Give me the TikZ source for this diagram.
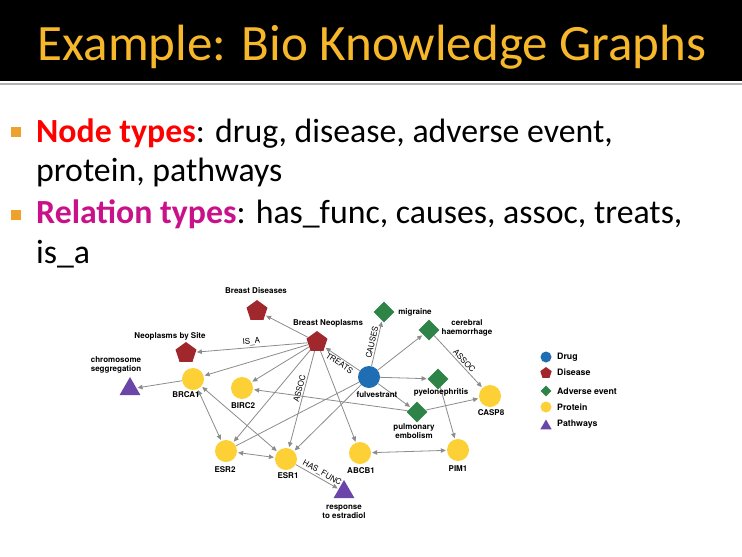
\documentclass[tikz,border=0pt]{standalone}
\usepackage{fontspec}
\setmainfont{Carlito}
\newfontfamily\kgfont{TeX Gyre Heros}
\usetikzlibrary{shapes.geometric,arrows.meta}

\definecolor{titlegold}{HTML}{F7B72B}
\definecolor{bulletorange}{HTML}{EFA22B}
\definecolor{typered}{HTML}{FF0000}
\definecolor{relmagenta}{HTML}{C9118A}
\definecolor{drugblue}{HTML}{1F6DB3}
\definecolor{diseasered}{HTML}{A0282C}
\definecolor{eventgreen}{HTML}{2E8347}
\definecolor{proteinyellow}{HTML}{FDD135}
\definecolor{pathpurple}{HTML}{6B46A8}
\definecolor{edgegray}{HTML}{8C8C8C}

\tikzset{
  drug/.style={circle, fill=drugblue, minimum size=22pt, inner sep=0pt},
  protein/.style={circle, fill=proteinyellow, minimum size=22pt, inner sep=0pt},
  disease/.style={regular polygon, regular polygon sides=5, fill=diseasered, minimum size=22pt, inner sep=0pt},
  event/.style={diamond, fill=eventgreen, minimum size=21pt, inner sep=0pt},
  pathway/.style={regular polygon, regular polygon sides=3, fill=pathpurple, minimum size=24pt, inner sep=0pt},
  lbl/.style={font=\kgfont\bfseries\fontsize{8}{9.5}\selectfont, align=center, inner sep=0pt},
  lgtxt/.style={font=\kgfont\bfseries\fontsize{8.8}{10}\selectfont, anchor=west, inner sep=0pt},
  link/.style={draw=edgegray, line width=0.8pt},
  rel/.style={link, -{Triangle[length=5pt,width=4.5pt]}, shorten >=1pt},
  birel/.style={link, {Triangle[length=5pt,width=4.5pt]}-{Triangle[length=5pt,width=4.5pt]}, shorten >=1pt, shorten <=1pt},
  reltxt/.style={font=\kgfont\fontsize{8}{8.5}\selectfont, sloped, above, inner sep=1.5pt},
  bodytxt/.style={anchor=base west, inner sep=0pt, font=\fontsize{33.8}{40}\selectfont},
}

\begin{document}
\begin{tikzpicture}[x=1pt, y=-1pt]
  \fill[white] (0,0) rectangle (742,557);
  \useasboundingbox (0,0) rectangle (742,557);

  % title bar
  \fill[black] (0,0) rectangle (742,81);
  \draw[black!30, line width=1.5pt] (0,84) -- (742,84);
  \node[anchor=base, text=titlegold, inner sep=0pt, font=\fontsize{51}{60}\selectfont] (title) at (372,60) {Example: Bio Knowledge Graphs};

  % bullets
  \fill[bulletorange] (11,127) rectangle (21,137);
  \fill[bulletorange] (11,210) rectangle (21,220);
  \node[bodytxt] (line1) at (36,142) {{\color{typered}\bfseries Node types}: drug, disease, adverse event,};
  \node[bodytxt] (line2) at (36,181) {protein, pathways};
  \node[bodytxt] (line3) at (36,223) {{\color{relmagenta}\bfseries Relation types}: has\_func, causes, assoc, treats,};
  \node[bodytxt] (line4) at (36,263) {is\_a};

  % graph nodes
  \node[disease] (bd) at (257,311) {};
  \node[disease] (bn) at (317,342) {};
  \node[disease] (nbs) at (186,353) {};
  \node[pathway] (chrom) at (130,389) {};
  \node[protein] (brca1) at (193,379) {};
  \node[protein] (birc2) at (242,388) {};
  \node[drug] (fulv) at (369,377) {};
  \node[event] (migr) at (384,312) {};
  \node[event] (cereb) at (429,330) {};
  \node[event] (pyelo) at (438,379) {};
  \node[event] (pulm) at (417,412) {};
  \node[protein] (casp8) at (490,396) {};
  \node[protein] (esr2) at (226,451) {};
  \node[protein] (esr1) at (286,459) {};
  \node[protein] (abcb1) at (360,453) {};
  \node[protein] (pim1) at (458,450) {};
  \node[pathway] (resp) at (344,492) {};

  % edges
  \draw[rel] (bn) -- (bd);
  \draw[rel] (bn) -- node[reltxt]{IS\_A} (nbs);
  \draw[rel] (bn) -- (brca1);
  \draw[rel] (bn) -- (birc2);
  \draw[rel] (bn) -- (esr2);
  \draw[rel] (bn) -- node[reltxt, pos=0.4]{ASSOC} (esr1);
  \draw[rel] (bn) -- (abcb1);
  \draw[rel] (fulv) -- node[reltxt, below]{TREATS} (bn);
  \draw[rel] (fulv) -- node[reltxt]{CAUSES} (migr);
  \draw[rel] (fulv) -- (cereb);
  \draw[rel] (fulv) -- (pyelo);
  \draw[rel] (fulv) -- (pulm);
  \draw[link] (fulv) -- (esr2);
  \draw[rel] (fulv) -- (esr1);
  \draw[rel] (cereb) -- node[reltxt, pos=0.55]{ASSOC} (casp8);
  \draw[rel] (pulm) -- (casp8);
  \draw[rel] (pulm) -- (birc2);
  \draw[rel] (pyelo) -- (pim1);
  \draw[birel] (brca1) -- (esr2);
  \draw[birel] (brca1) -- (esr1);
  \draw[birel] (esr2) -- (esr1);
  \draw[birel] (abcb1) -- (pim1);
  \draw[rel] (esr1) -- node[reltxt, pos=0.55]{HAS\_FUNC} (resp);
  \draw[rel] (brca1) -- (chrom);

  % node labels
  \node[lbl] (bd-l) at (256,291) {Breast Diseases};
  \node[lbl] (bn-l) at (328,323) {Breast Neoplasms};
  \node[lbl] (nbs-l) at (170,336) {Neoplasms by Site};
  \node[lbl] (chrom-l) at (116,365) {chromosome\\seggregation};
  \node[lbl] (brca1-l) at (186,395) {BRCA1};
  \node[lbl] (birc2-l) at (243,406) {BIRC2};
  \node[lbl] (fulv-l) at (377,395) {fulvestrant};
  \node[lbl] (migr-l) at (415,312) {migraine};
  \node[lbl] (cereb-l) at (467,328) {cerebral\\haemorrhage};
  \node[lbl] (pyelo-l) at (441,392) {pyelonephritis};
  \node[lbl] (pulm-l) at (414,431) {pulmonary\\embolism};
  \node[lbl] (casp8-l) at (491,413) {CASP8};
  \node[lbl] (esr2-l) at (225,470) {ESR2};
  \node[lbl] (esr1-l) at (288,476) {ESR1};
  \node[lbl] (abcb1-l) at (361,471) {ABCB1};
  \node[lbl] (pim1-l) at (458,469) {PIM1};
  \node[lbl] (resp-l) at (344,512) {response\\to estradiol};

  % legend
  \node[drug, minimum size=11pt] (lg-drug) at (546,357) {};
  \node[disease, minimum size=12pt] (lg-disease) at (546,373) {};
  \node[event, minimum size=11pt] (lg-event) at (546,391) {};
  \node[protein, minimum size=11pt] (lg-protein) at (546,407) {};
  \node[pathway, minimum size=13pt] (lg-pathway) at (546,426) {};
  \node[lgtxt] (lg-drug-t) at (557,357) {Drug};
  \node[lgtxt] (lg-disease-t) at (557,372) {Disease};
  \node[lgtxt] (lg-event-t) at (557,391) {Adverse event};
  \node[lgtxt] (lg-protein-t) at (557,407) {Protein};
  \node[lgtxt] (lg-pathway-t) at (557,424) {Pathways};
\end{tikzpicture}
\end{document}
